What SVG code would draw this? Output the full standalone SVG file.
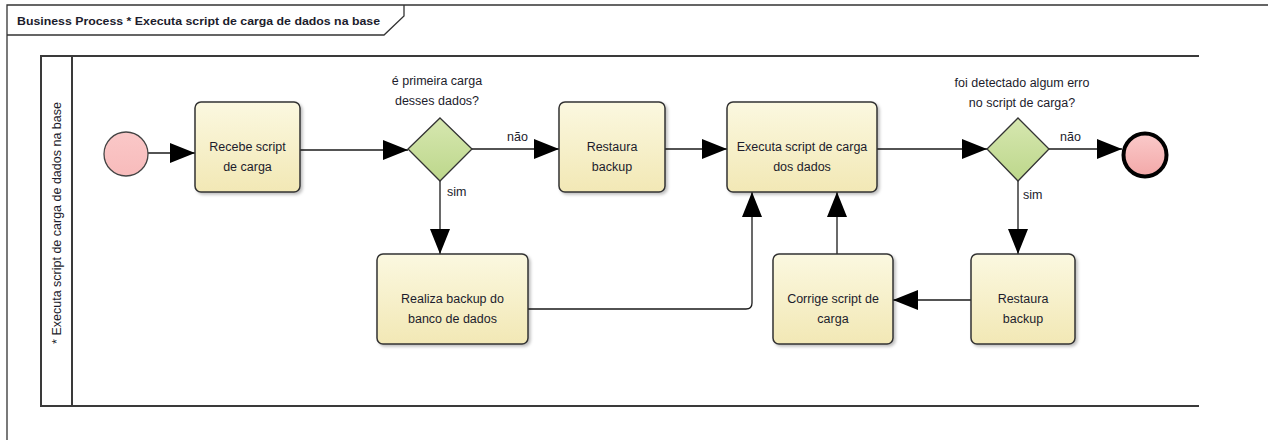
<svg xmlns="http://www.w3.org/2000/svg" width="1268" height="440" viewBox="0 0 1268 440">
  <defs>
    <linearGradient id="gTask" x1="0" y1="0" x2="0" y2="1">
      <stop offset="0" stop-color="#FBF8E0"/>
      <stop offset="1" stop-color="#F2E8B5"/>
    </linearGradient>
    <linearGradient id="gGate" x1="0" y1="0" x2="0" y2="1">
      <stop offset="0" stop-color="#D6E7B0"/>
      <stop offset="1" stop-color="#BDD78B"/>
    </linearGradient>
    <linearGradient id="gStart" x1="0" y1="0" x2="0" y2="1">
      <stop offset="0" stop-color="#FAC8C8"/>
      <stop offset="1" stop-color="#F8BBBB"/>
    </linearGradient>
    <linearGradient id="gEnd" x1="0" y1="0" x2="0" y2="1">
      <stop offset="0" stop-color="#FACACA"/>
      <stop offset="1" stop-color="#F3A8A8"/>
    </linearGradient>
    <filter id="shadow" x="-10%" y="-10%" width="130%" height="130%">
      <feDropShadow dx="2" dy="2" stdDeviation="1.5" flood-color="#000" flood-opacity="0.25"/>
    </filter>
    <marker id="arrow" markerUnits="userSpaceOnUse" markerWidth="25" markerHeight="20" refX="25" refY="10" orient="auto">
      <path d="M0,0 L25,10 L0,20 z" fill="#000"/>
    </marker>
  </defs>
  <style>
    .frame { fill: none; stroke: #333; stroke-width: 1.3; }
    .pool { fill: none; stroke: #3a3a3a; stroke-width: 2; }
    .task { fill: url(#gTask); stroke: #333; stroke-width: 1.5; filter: url(#shadow); }
    .gate { fill: url(#gGate); stroke: #333; stroke-width: 1.3; }
    .conn { fill: none; stroke: #1a1a1a; stroke-width: 1.3; marker-end: url(#arrow); }
    text { font-family: "Liberation Sans", Arial, sans-serif; font-size: 12.5px; fill: #1c1c2c; }
    .ctr { text-anchor: middle; }
    .title { font-weight: bold; font-size: 11.5px; }
  </style>

  <!-- diagram frame with title tab -->
  <g id="frame">
    <path class="frame" d="M7,440 V5 H1268"/>
    <path class="frame" d="M7,35 H384 L404,16 V5"/>
    <text class="title" x="17" y="25" textLength="363" lengthAdjust="spacingAndGlyphs">Business Process * Executa script de carga de dados na base</text>
  </g>

  <!-- pool and lane header -->
  <g id="lane">
    <path class="pool" d="M1199,56 H41 V406 H1199"/>
    <line class="pool" x1="72" y1="56" x2="72" y2="406"/>
    <text class="ctr" transform="translate(61,223) rotate(-90)">* Executa script de carga de dados na base</text>
  </g>

  <!-- sequence flows -->
  <g id="connectors">
    <line class="conn" x1="148" y1="153" x2="195" y2="153"/>
    <line class="conn" x1="300" y1="150" x2="408" y2="150"/>
    <line class="conn" x1="472" y1="149" x2="559" y2="149"/>
    <line class="conn" x1="440" y1="181" x2="440" y2="254"/>
    <line class="conn" x1="665" y1="149" x2="727" y2="149"/>
    <path class="conn" d="M528,309 H746 Q752,309 752,303 V192"/>
    <line class="conn" x1="837" y1="254" x2="837" y2="192"/>
    <line class="conn" x1="877" y1="149" x2="987" y2="149"/>
    <line class="conn" x1="1049" y1="149" x2="1122" y2="149"/>
    <line class="conn" x1="1018" y1="181" x2="1018" y2="254"/>
    <line class="conn" x1="971" y1="300" x2="893" y2="300"/>
    <text x="507" y="141">não</text>
    <text x="447" y="196">sim</text>
    <text x="1060" y="141">não</text>
    <text x="1023" y="199">sim</text>
  </g>

  <g id="start">
    <circle cx="126" cy="154" r="22" fill="url(#gStart)" stroke="#444" stroke-width="1.3"/>
  </g>

  <g id="recebe">
    <rect class="task" x="195" y="102" width="105" height="90" rx="6"/>
    <text class="ctr" x="247.5" y="150.5">Recebe script</text>
    <text class="ctr" x="247.5" y="170.5">de carga</text>
  </g>

  <g id="gateway1">
    <path class="gate" d="M440,118 L472,149 L440,181 L408,149 z"/>
    <text class="ctr" x="437" y="85">é primeira carga</text>
    <text class="ctr" x="437" y="105">desses dados?</text>
  </g>

  <g id="restaura1">
    <rect class="task" x="559" y="102" width="106" height="90" rx="6"/>
    <text class="ctr" x="612" y="150.5">Restaura</text>
    <text class="ctr" x="612" y="170.5">backup</text>
  </g>

  <g id="realiza">
    <rect class="task" x="377" y="254" width="151" height="90" rx="6"/>
    <text class="ctr" x="452.5" y="302.5">Realiza backup do</text>
    <text class="ctr" x="452.5" y="322.5">banco de dados</text>
  </g>

  <g id="executa">
    <rect class="task" x="727" y="102" width="150" height="90" rx="6"/>
    <text class="ctr" x="802" y="150.5">Executa script de carga</text>
    <text class="ctr" x="802" y="170.5">dos dados</text>
  </g>

  <g id="corrige">
    <rect class="task" x="773" y="254" width="120" height="90" rx="6"/>
    <text class="ctr" x="833" y="302.5">Corrige script de</text>
    <text class="ctr" x="833" y="322.5">carga</text>
  </g>

  <g id="gateway2">
    <path class="gate" d="M1018,118 L1049,149 L1018,181 L987,149 z"/>
    <text class="ctr" x="1022" y="87">foi detectado algum erro</text>
    <text class="ctr" x="1022" y="107">no script de carga?</text>
  </g>

  <g id="restaura2">
    <rect class="task" x="971" y="254" width="104" height="90" rx="6"/>
    <text class="ctr" x="1023" y="302.5">Restaura</text>
    <text class="ctr" x="1023" y="322.5">backup</text>
  </g>

  <g id="end">
    <circle cx="1145" cy="155" r="21.5" fill="url(#gEnd)" stroke="#000" stroke-width="4"/>
  </g>
</svg>
